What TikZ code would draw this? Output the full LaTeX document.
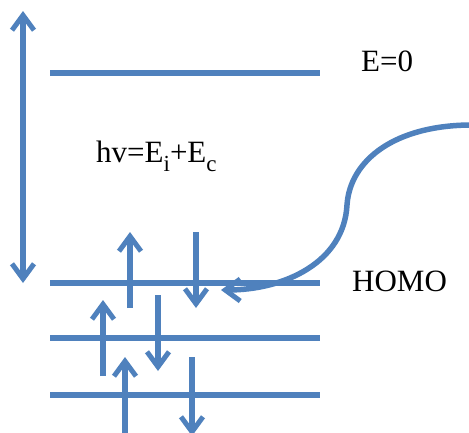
\documentclass[tikz,border=0pt]{standalone}
\usepackage{fontspec}
\setmainfont{Liberation Serif}
\usepackage{tikz}
\usetikzlibrary{arrows.meta, positioning}

\definecolor{lvlblue}{RGB}{79,129,189}
\newcommand{\lowsub}[1]{\raisebox{-0.3em}{\fontsize{23}{26}\selectfont #1}}

\begin{document}
\begin{tikzpicture}[
    x=1pt, y=-1pt,
    level/.style={draw=lvlblue, line width=5.5pt},
    spin/.style={draw=lvlblue, line width=5.5pt, -{Straight Barb[length=15pt, width=22pt, line width=5pt]}},
    gap/.style={draw=lvlblue, line width=5.5pt, {Straight Barb[length=15pt, width=22pt, line width=5pt]}-{Straight Barb[length=15pt, width=22pt, line width=5pt]}},
    lbl/.style={inner sep=0pt, anchor=base west, font=\fontsize{31}{36}\selectfont}
]
\useasboundingbox (0,0) rectangle (469,432);

% energy levels
\coordinate (vac-l) at (50,73);   \coordinate (vac-r) at (320,73);
\coordinate (homo-l) at (50,283); \coordinate (homo-r) at (320,283);
\coordinate (lev2-l) at (50,338); \coordinate (lev2-r) at (320,338);
\coordinate (lev3-l) at (50,395); \coordinate (lev3-r) at (320,395);

\draw[level] (vac-l) -- (vac-r);
\draw[level] (homo-l) -- (homo-r);
\draw[level] (lev2-l) -- (lev2-r);
\draw[level] (lev3-l) -- (lev3-r);

% labels
\node[lbl] (ezero) at (361,71) {E=0};
\node[lbl] (homo) at (352,291) {HOMO};
\node[lbl] (hnu) at (96,162) {hv=E\lowsub{i}+E\lowsub{c}};

% ionisation gap
\coordinate (gap-top) at (23,11);
\coordinate (gap-bot) at (23,283);
\draw[gap] (gap-bot) -- (gap-top);

% electrons (spin up / spin down)
\coordinate (up1-s) at (130,308); \coordinate (up1-e) at (130,232);
\coordinate (dn1-s) at (196,232); \coordinate (dn1-e) at (196,308);
\coordinate (up2-s) at (103,376); \coordinate (up2-e) at (103,300);
\coordinate (dn2-s) at (158,295); \coordinate (dn2-e) at (158,371);
\coordinate (up3-s) at (125,440); \coordinate (up3-e) at (125,357);
\coordinate (dn3-s) at (192,357); \coordinate (dn3-e) at (192,436);

\draw[spin] (up1-s) -- (up1-e);
\draw[spin] (dn1-s) -- (dn1-e);
\draw[spin] (up2-s) -- (up2-e);
\draw[spin] (dn2-s) -- (dn2-e);
\draw[spin] (up3-s) -- (up3-e);
\draw[spin] (dn3-s) -- (dn3-e);

% incoming photon
\coordinate (photon) at (472,125);
\coordinate (bend) at (347,205);
\coordinate (hit) at (221,290);
\draw[spin] (photon) .. controls (395,125) and (350,160) .. (bend)
    .. controls (344,262) and (285,290) .. (hit);

\end{tikzpicture}
\end{document}
